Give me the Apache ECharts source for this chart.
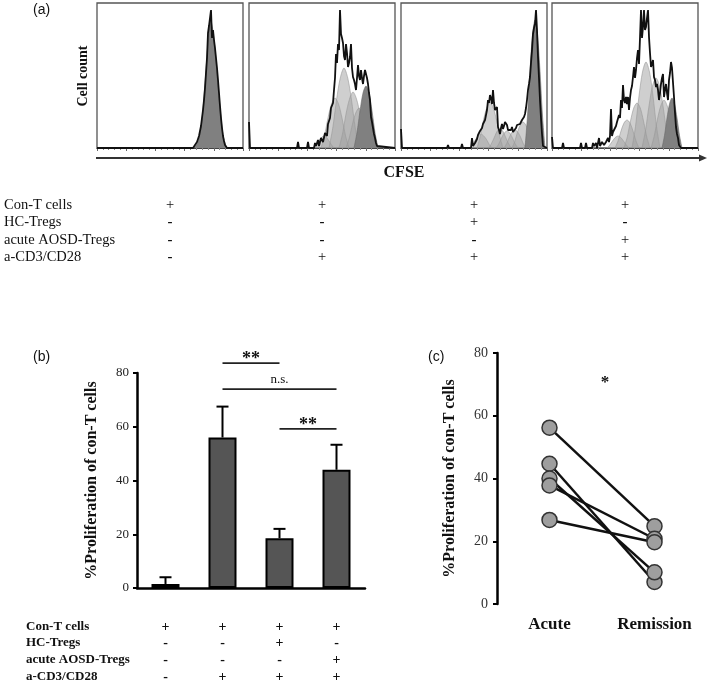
<!DOCTYPE html>
<html><head><meta charset="utf-8">
<script src="https://cdn.jsdelivr.net/npm/echarts@6.0.0/dist/echarts.min.js"></script>
<style>html,body{margin:0;padding:0;background:#fff}#c{width:709px;height:684px}</style>
</head><body><div id="c"></div>
<script>
// ---------- Panel (a): CFSE histograms (x = CFSE channel, y = cell count) ----------
const hist1Outline = [[0,0],[96,0],[98,2],[100,6],[102,12],[104,22],[105,30],[106,38],[107,48],[108,60],[109,75],[110,90],[111,115],[112,122],[113,120],[114,138],[115,110],[116,118],[117,108],[118,100],[119,90],[120,80],[121,68],[122,55],[123,42],[124,30],[125,20],[126,12],[127,7],[128,3],[130,0],[146,0]];
const hist1Light = [];
const hist1Dark = [[97,0],[101,6],[105,28],[109,78],[112,118],[114,126],[117,108],[120,76],[123,40],[126,13],[129,2],[131,0]];

const hist2Outline = [[0,26],[1,0],[48,0],[49,6],[50,0],[58,0],[59,6],[60,0],[65,0],[66,5],[67,2],[69,8],[70,2],[72,10],[74,6],[76,15],[78,12],[79,24],[81,30],[82,40],[84,45],[85,58],[86,70],[87,94],[88,85],[89,104],[90,98],[91,138],[92,114],[93,110],[94,105],[95,92],[96,88],[97,104],[98,95],[99,81],[100,85],[101,91],[102,104],[103,80],[104,71],[105,68],[106,64],[107,58],[108,70],[109,83],[110,72],[111,68],[112,78],[113,70],[114,64],[115,72],[116,78],[117,76],[118,70],[119,64],[120,55],[121,48],[122,31],[123,26],[124,20],[125,14],[126,10],[127,5],[128,2],[130,0],[146,0]];
const hist2Light = [
  [[65,0],[67.5,3],[70,7],[72.5,10.5],[75,12],[77.5,10.5],[80,7],[82.5,3],[85,0]],
  [[72,0],[75.5,12.5],[79,30],[82.5,44],[86,50],[89.5,44],[93,30],[96.5,12.5],[100,0]],
  [[80,0],[83.75,20],[87.5,48],[91.25,70],[95,80],[98.75,70],[102.5,48],[106.25,20],[110,0]],
  [[90,0],[93.5,14],[97,34],[100.5,49],[104,56],[107.5,49],[111,34],[114.5,14],[118,0]],
  [[97,0],[100.25,10],[103.5,24],[106.75,35],[110,40],[113.25,35],[116.5,24],[119.75,10],[123,0]]
];
const hist2Dark = [[105,0],[108,15.5],[111,37],[114,55],[117,62],[120,55],[123,37],[126,15.5],[129,0]];

const hist3Outline = [[0,19],[1,0],[46,0],[47,3],[48,0],[60,0],[61,4],[62,0],[70,0],[71,10],[72,2],[74,5],[76,9],[77,13],[79,17],[81,20],[82,24],[84,28],[85,33],[86,38],[87,48],[88,45],[89,53],[90,50],[91,44],[92,58],[93,45],[94,38],[95,40],[96,41],[97,21],[98,18],[99,14],[100,20],[101,24],[102,19],[103,22],[104,26],[105,24],[106,23],[107,18],[108,19],[109,16],[110,18],[111,21],[112,16],[113,18],[114,16],[115,20],[116,23],[117,22],[118,25],[119,24],[120,26],[121,28],[122,29],[123,31],[124,34],[125,40],[126,48],[127,58],[128,64],[129,71],[130,85],[131,98],[132,114],[133,120],[134,124],[135,138],[136,118],[137,91],[138,70],[139,48],[140,30],[141,14],[142,2],[144,0],[146,0]];
const hist3Light = [
  [[69,0],[71.75,3.5],[74.5,8.5],[77.25,12],[80,14],[82.75,12],[85.5,8.5],[88.25,3.5],[91,0]],
  [[76,0],[79.25,11.5],[82.5,28],[85.75,40],[89,46],[92.25,40],[95.5,28],[98.75,11.5],[102,0]],
  [[88,0],[90.75,5],[93.5,11],[96.25,17],[99,19],[101.75,17],[104.5,11],[107.25,5],[110,0]],
  [[95,0],[97.75,4],[100.5,10],[103.25,15],[106,17],[108.75,15],[111.5,10],[114.25,4],[117,0]],
  [[103,0],[105.75,4.5],[108.5,11],[111.25,16],[114,18],[116.75,16],[119.5,11],[122.25,4.5],[125,0]],
  [[111,0],[113.75,6.5],[116.5,16],[119.25,23],[122,26],[124.75,23],[127.5,16],[130.25,6.5],[133,0]]
];
const hist3Dark = [[124,0],[126.5,32],[129,77],[131.5,113],[134,128],[136.5,113],[139,77],[141.5,32],[144,0]];

const hist4Outline = [[0,11],[1,0],[10,0],[11,5],[12,0],[28,0],[29,5],[30,0],[33,0],[34,5],[35,0],[40,0],[41,5],[42,2],[44,5],[45,0],[47,10],[48,2],[50,6],[51,8],[52,3],[54,6],[56,10],[57,6],[58,12],[59,39],[60,12],[61,16],[62,18],[64,22],[65,26],[66,28],[67,33],[68,30],[69,48],[70,40],[71,63],[72,48],[73,45],[74,51],[75,44],[76,51],[77,38],[78,50],[79,58],[80,62],[81,71],[82,81],[83,70],[84,78],[85,90],[86,98],[87,84],[88,110],[89,138],[90,110],[91,121],[92,138],[93,118],[94,121],[95,130],[96,138],[97,111],[98,95],[99,81],[100,84],[101,88],[102,71],[103,68],[104,61],[105,64],[106,58],[107,48],[108,55],[109,64],[110,70],[111,74],[112,51],[113,58],[114,64],[115,55],[116,48],[117,68],[118,75],[119,86],[120,80],[121,81],[122,51],[123,35],[124,21],[125,14],[126,10],[127,3],[129,0],[146,0]];
const hist4Light = [
  [[55,0],[57.75,3],[60.5,7],[63.25,10.5],[66,12],[68.75,10.5],[71.5,7],[74.25,3],[77,0]],
  [[63,0],[66,7],[69,17],[72,25],[75,28],[78,25],[81,17],[84,7],[87,0]],
  [[72,0],[75.25,11],[78.5,27],[81.75,40],[85,45],[88.25,40],[91.5,27],[94.75,11],[98,0]],
  [[80,0],[83.5,21.5],[87,52],[90.5,76],[94,86],[97.5,76],[101,52],[104.5,21.5],[108,0]],
  [[90,0],[93.5,17.5],[97,42],[100.5,62],[104,70],[107.5,62],[111,42],[114.5,17.5],[118,0]],
  [[99,0],[102.25,12],[105.5,29],[108.75,42],[112,48],[115.25,42],[118.5,29],[121.75,12],[125,0]]
];
const hist4Dark = [[110,0],[112.5,12.5],[115,30],[117.5,44],[120,50],[122.5,44],[125,30],[127.5,12.5],[130,0]];

// ---------- Condition tables ----------
const condLabels = ['Con-T cells', 'HC-Tregs', 'acute AOSD-Tregs', 'a-CD3/CD28'];
const condMatrix = [
  ['+', '+', '+', '+'],
  ['-', '-', '+', '-'],
  ['-', '-', '-', '+'],
  ['-', '+', '+', '+']
];

// ---------- Panel (b): bar chart ----------
const bCats = ['Con-T', 'Con-T+aCD3/CD28', 'Con-T+HC-Tregs+aCD3/CD28', 'Con-T+AOSD-Tregs+aCD3/CD28'];
const bMeans = [1.5, 56, 18.5, 44];
const bSD = [2.5, 11.5, 3.5, 9.3];
const sigFrom = [1, 1, 2];
const sigTo = [2, 3, 3];
const sigLevel = [83.7, 74, 59.2];
const sigLabels = ['**', 'n.s.', '**'];

// ---------- Panel (c): paired plot ----------
const cCats = ['Acute', 'Remission'];
const cAcute = [56.2, 44.7, 40.0, 37.8, 26.8];
const cRemission = [24.8, 7.0, 10.1, 20.8, 19.7];
const cStar = '*';

const serif = '"Liberation Serif", "DejaVu Serif", serif';
const sans = '"Liberation Sans", Arial, sans-serif';

const chart = echarts.init(document.getElementById('c'), null, {renderer: 'canvas'});

const histPanels = [
  {outline: hist1Outline, light: hist1Light, dark: hist1Dark},
  {outline: hist2Outline, light: hist2Light, dark: hist2Dark},
  {outline: hist3Outline, light: hist3Light, dark: hist3Dark},
  {outline: hist4Outline, light: hist4Light, dark: hist4Dark}
];
const histLefts = [97, 249, 401, 552];

const grids = [], xAxes = [], yAxes = [], series = [];
histPanels.forEach((p, i) => {
  grids.push({left: histLefts[i], top: 3, width: 146, height: 145, show: true, borderColor: '#555', borderWidth: 1.3, backgroundColor: '#fff'});
  xAxes.push({type: 'value', gridIndex: i, min: 0, max: 146, interval: 29.2,
    axisLine: {show: true, lineStyle: {color: '#444', width: 1}},
    axisTick: {show: true, inside: false, length: 3, lineStyle: {color: '#666', width: 1}},
    minorTick: {show: true, splitNumber: 5, length: 2, lineStyle: {color: '#888', width: 1}},
    axisLabel: {show: false}, splitLine: {show: false}});
  yAxes.push({type: 'value', gridIndex: i, min: 0, max: 145, show: false, splitLine: {show: false}});
  p.light.forEach(pk => {
    series.push({type: 'line', xAxisIndex: i, yAxisIndex: i, data: pk, smooth: 0.3, symbol: 'none', z: 2,
      lineStyle: {color: '#999', width: 0.6}, areaStyle: {color: 'rgba(160,160,160,0.5)', opacity: 1}, silent: true});
  });
  series.push({type: 'line', xAxisIndex: i, yAxisIndex: i, data: p.dark, smooth: 0.3, symbol: 'none', z: 3,
    lineStyle: {color: '#6a6a6a', width: 0.6}, areaStyle: {color: '#808080', opacity: 1}, silent: true});
  series.push({type: 'line', xAxisIndex: i, yAxisIndex: i, data: p.outline, symbol: 'none', z: 4,
    lineStyle: {color: '#111', width: 1.8}, silent: true});
});

// Panel (b)
grids.push({left: 137, top: 373, width: 228, height: 215});
xAxes.push({type: 'category', gridIndex: 4, data: bCats,
  axisLine: {show: true, lineStyle: {color: '#000', width: 2.5}}, axisTick: {show: false}, axisLabel: {show: false}});
yAxes.push({type: 'value', gridIndex: 4, min: 0, max: 80, interval: 20,
  axisLine: {show: true, lineStyle: {color: '#000', width: 2.5}},
  axisTick: {show: true, inside: false, length: 4, lineStyle: {color: '#000', width: 2}},
  axisLabel: {fontFamily: serif, fontSize: 13, color: '#222', margin: 8},
  splitLine: {show: false},
  name: '%Proliferation of con-T cells', nameLocation: 'middle', nameRotate: 90, nameGap: 37,
  nameTextStyle: {fontFamily: serif, fontSize: 16, fontWeight: 'bold', color: '#111'}});
series.push({type: 'bar', xAxisIndex: 4, yAxisIndex: 4, data: bMeans, barWidth: 28, z: 2,
  itemStyle: {color: '#555', borderColor: '#000', borderWidth: 2}});
series.push({type: 'custom', xAxisIndex: 4, yAxisIndex: 4, z: 3,
  data: bMeans.map((m, i) => [i, m, m + bSD[i]]),
  encode: {x: 0, y: [1, 2]},
  renderItem: (params, api) => {
    const a = api.coord([api.value(0), api.value(1)]);
    const b = api.coord([api.value(0), api.value(2)]);
    return {type: 'group', children: [
      {type: 'line', shape: {x1: a[0], y1: a[1], x2: b[0], y2: b[1]}, style: {stroke: '#000', lineWidth: 2}},
      {type: 'line', shape: {x1: b[0] - 6, y1: b[1], x2: b[0] + 6, y2: b[1]}, style: {stroke: '#000', lineWidth: 2}}
    ]};
  }});
series.push({type: 'custom', xAxisIndex: 4, yAxisIndex: 4, z: 3, clip: false,
  data: sigFrom.map((f, i) => [f, sigLevel[i], sigTo[i]]),
  encode: {x: 0, y: 1},
  renderItem: (params, api) => {
    const a = api.coord([api.value(0), api.value(1)]);
    const b = api.coord([api.value(2), api.value(1)]);
    const lab = sigLabels[params.dataIndex];
    const isStar = lab.indexOf('*') >= 0;
    return {type: 'group', children: [
      {type: 'line', shape: {x1: a[0], y1: a[1], x2: b[0], y2: a[1]}, style: {stroke: '#222', lineWidth: 1.8}},
      {type: 'text', x: (a[0] + b[0]) / 2, y: a[1] - (isStar ? 4 : 10),
        style: {text: lab, font: (isStar ? 'bold 18px ' : '13px ') + serif, fill: '#111',
          align: 'center', verticalAlign: 'middle', textAlign: 'center', textVerticalAlign: 'middle'}}
    ]};
  }});

// Panel (c)
grids.push({left: 497, top: 353, width: 210, height: 251});
xAxes.push({type: 'category', gridIndex: 5, data: cCats,
  axisLine: {show: false}, axisTick: {show: false},
  axisLabel: {fontFamily: serif, fontSize: 17, fontWeight: 'bold', color: '#111', margin: 12}});
yAxes.push({type: 'value', gridIndex: 5, min: 0, max: 80, interval: 20,
  axisLine: {show: true, lineStyle: {color: '#000', width: 2.5}},
  axisTick: {show: true, inside: false, length: 4, lineStyle: {color: '#000', width: 2}},
  axisLabel: {fontFamily: serif, fontSize: 14, color: '#333', margin: 9},
  splitLine: {show: false},
  name: '%Proliferation of con-T cells', nameLocation: 'middle', nameRotate: 90, nameGap: 39,
  nameTextStyle: {fontFamily: serif, fontSize: 16, fontWeight: 'bold', color: '#111'}});
cAcute.forEach((v, i) => {
  series.push({type: 'line', xAxisIndex: 5, yAxisIndex: 5, data: [v, cRemission[i]], z: 3,
    symbol: 'circle', symbolSize: 15,
    lineStyle: {color: '#111', width: 2.5},
    itemStyle: {color: '#9e9e9e', borderColor: '#333', borderWidth: 1.5}});
});

chart.setOption({
  animation: false,
  backgroundColor: '#fff',
  grid: grids, xAxis: xAxes, yAxis: yAxes, series: series
});

// Graphic overlay: panel letters, axis titles, condition tables
const T = (x, y, text, font, align, extra) => Object.assign({type: 'text', x: x, y: y, z: 10,
  style: {text: text, font: font, fill: '#111', align: align || 'left', verticalAlign: 'middle',
    textAlign: align || 'left', textVerticalAlign: 'middle'}}, extra || {});
const g = [];
g.push(T(33, 10, '(a)', '14px ' + sans));
g.push(T(33, 357, '(b)', '14px ' + sans));
g.push(T(428, 357, '(c)', '14px ' + sans));
g.push(T(83, 76, 'Cell count', 'bold 14px ' + serif, 'center', {rotation: Math.PI / 2}));
g.push(T(404, 173, 'CFSE', 'bold 16px ' + serif, 'center'));
g.push({type: 'line', z: 10, shape: {x1: 96, y1: 158, x2: 702, y2: 158}, style: {stroke: '#333', lineWidth: 2}});
g.push({type: 'polygon', z: 10, shape: {points: [[699, 154.5], [707, 158], [699, 161.5]]}, style: {fill: '#333'}});

const colA = histLefts.map((l) => l + 73);
const rowA = [205, 222, 240, 257];
condLabels.forEach((lab, r) => {
  g.push(T(4, rowA[r], lab, '14.5px ' + serif));
  condMatrix[r].forEach((s, c) => g.push(T(colA[c], rowA[r], s, (s === '-' ? 'bold 15px ' : '14.5px ') + serif, 'center')));
});
const rowB = [627, 643, 660, 677];
const colB = bCats.map((c, i) => chart.convertToPixel({xAxisIndex: 4}, i));
condLabels.forEach((lab, r) => {
  g.push(T(26, rowB[r], lab, 'bold 13px ' + serif));
  condMatrix[r].forEach((s, c) => g.push(T(colB[c], rowB[r], s, 'bold 14px ' + serif, 'center')));
});
const starX = (chart.convertToPixel({xAxisIndex: 5}, 0) + chart.convertToPixel({xAxisIndex: 5}, 1)) / 2;
g.push(T(starX + 3, 383, cStar, 'bold 17px ' + serif, 'center'));

chart.setOption({graphic: {elements: g}});
</script>
</body></html>
